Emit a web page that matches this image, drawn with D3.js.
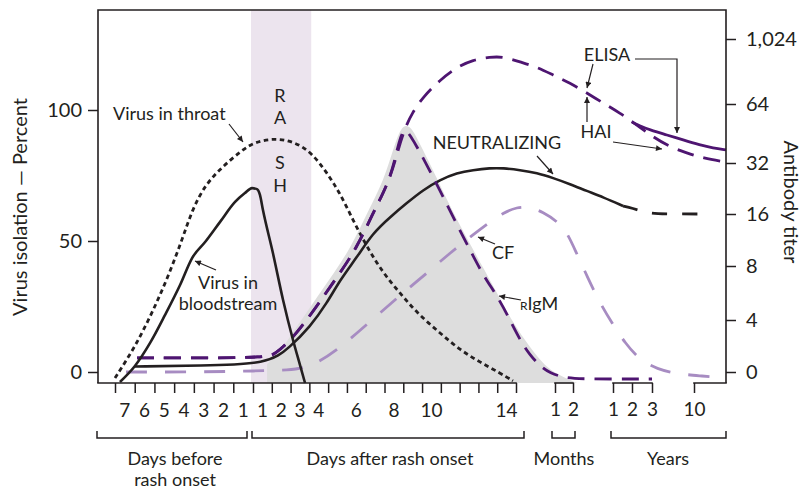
<!DOCTYPE html>
<html><head><meta charset="utf-8">
<script src="https://cdn.jsdelivr.net/npm/d3@7"></script>
<style>
html,body{margin:0;padding:0;background:#fff;}
svg{display:block;font-family:Lato,"Open Sans",sans-serif;}
</style></head><body>
<svg id="chart" width="807" height="492"></svg>
<script>
// Time runs in day units relative to rash onset (-7..14); months and years continue on the same units.
const daysBefore = [7, 6, 5, 4, 3, 2, 1];
const daysAfter = [1, 2, 3, 4, 6, 8, 10, 14];
const months = [1, 2];
const years = [1, 2, 3, 10];
const percentTicks = [0, 50, 100];
const titerTicks = [0, 4, 8, 16, 32, 64, 1024];
const rashSpan = [-0.1, 3.1];

// Virus isolation, percent (left axis)
const throat = [[-7.0,-2.3],[-5.99,9.5],[-5.12,22.5],[-4.31,36.3],[-3.6,50.4],[-3.09,61.8],[-2.43,71.4],[-1.57,78.2],[-0.56,84.7],[0.11,87.8],[1.17,89.3],[2.24,87.8],[3.14,83.6],[3.94,76.0],[4.63,68.3],[5.32,58.0],[6.07,47.7],[6.92,37.8],[7.82,30.2],[8.73,22.5],[9.95,14.9],[11.02,8.4],[12.08,3.8],[13.15,-0.4],[13.84,-3.4]];
const bloodstream = [[-6.75,-3.8],[-5.99,2.3],[-5.22,11.1],[-4.46,21.8],[-3.7,33.2],[-3.09,43.5],[-2.43,49.6],[-1.67,57.3],[-0.91,64.9],[-0.41,68.3],[-0.05,70.2],[0.21,69.8],[0.37,67.6],[0.53,61.8],[1.06,45.4],[1.6,27.5],[2.13,12.2],[2.5,2.7],[2.77,-4.2]];

// Antibody titers (right axis)
const neutralizing = [[-5.99,0.42],[-2.69,0.5],[0.8,0.58],[1.97,1.92],[3.03,3.46],[3.94,5.26],[4.63,6.96],[5.54,9.38],[6.39,13.1],[7.29,15.5],[8.2,19.5],[9.05,23.5],[9.95,26.7],[10.86,28.9],[11.71,29.8],[12.62,30.4],[13.31,30.4],[14.21,29.8],[15.12,28.9],[15.97,27.3],[16.87,25.4],[17.78,23.2],[18.63,21.3],[19.7,18.5]];
const neutralizingLate = [[19.7,18.5],[20.17,17.9],[20.97,16.3],[21.82,16],[24.33,16]];
const earlyRise = [[-5.88,1.08],[-2.69,1.08],[0.75,1.12],[1.17,1.38],[1.97,2.38],[2.87,4.0],[3.73,5.7],[4.63,7.48],[5.54,10.9],[6.39,16.3],[7.29,26.7]];
const haiTail = [[7.72,39.1],[8.09,51.0],[8.47,59.1],[9.05,167],[9.95,418],[10.86,610],[11.71,714],[12.62,758],[13.31,765],[14.21,684],[15.12,610],[15.97,492],[16.87,374],[17.78,226],[18.63,79],[19.54,59.1],[20.44,52.6],[21.29,46.1],[22.2,40.7],[23.1,37.4],[23.95,34.7],[25.18,32.5]];
const rigmTail = [[7.67,39.1],[7.88,47.2],[8.09,50.5],[8.36,47.2],[8.89,38.0],[9.95,23.5],[10.86,14.3],[11.55,10.5],[12.24,7.33],[13.04,5.7],[13.68,4.0],[14.21,2.46],[14.74,1.31],[15.28,0.46],[15.81,-0.08],[16.61,-0.46],[17.57,-0.54],[21.24,-0.54]];
const elisa = [[20.17,54.2],[20.6,52.1],[21.13,49.9],[22.04,47.2],[22.89,44.5],[23.79,41.8],[24.49,40.1],[25.18,39.1]];
const cf = [[-6.44,0],[-2.69,0],[0.21,0.08],[1.97,0.15],[2.66,0.31],[3.41,0.69],[4.47,1.69],[5.54,3.0],[6.76,4.52],[7.98,6.0],[9.26,7.48],[10.49,10.0],[11.71,12.8],[12.62,14.8],[13.31,16.3],[14.05,18.2],[14.74,18.2],[15.44,16.6],[16.18,14.9],[16.71,13.2],[17.14,10.5],[17.83,7.1],[18.47,5.26],[19.11,3.77],[19.8,2.23],[20.6,0.92],[21.51,0.23],[22.57,-0.15],[23.95,-0.31],[25.02,-0.46]];
const igmShade = [[0.75,0.62],[1.44,1.54],[2.5,3.85],[3.41,5.7],[4.31,7.48],[5.22,10.9],[6.07,16.3],[6.97,26.7],[7.45,39.1],[7.82,49.9],[8.09,52.6],[8.41,51.5],[8.78,44.5],[9.32,33.6],[9.95,25.1],[10.75,15.7],[11.44,12.0],[12.08,8.6],[12.99,6.0],[13.84,3.77],[14.74,1.92],[15.28,0.92],[15.81,0.15],[16.61,-0.46],[17.25,-0.85]];

const L = 98, R = 726, T = 10, B = 383;
const ink = "#231f20", dark = "#4e1571", light = "#a78cc2";
const font = "Lato, 'Open Sans', sans-serif";

const x = d3.scaleLinear().domain([-7, 0, 14]).range([115, 253, 516]);
const xMonth = d3.scaleLinear().domain([1, 2]).range([555, 573]);
const xYear = d3.scaleLinear().domain([1, 2, 3, 10]).range([613, 632, 652, 694]);
const yPct = d3.scaleLinear().domain([0, 100]).range([372, 110]);
const yTiter = d3.scaleLinear().domain(titerTicks).range([372, 320, 266, 214, 163, 104, 39]);

const svg = d3.select("#chart");

const defs = svg.append("defs");
defs.append("marker").attr("id", "arrow").attr("viewBox", "0 0 10 10")
  .attr("refX", 10).attr("refY", 5).attr("markerWidth", 8).attr("markerHeight", 6)
  .attr("markerUnits", "userSpaceOnUse").attr("orient", "auto")
  .append("path").attr("d", "M0,0 L10,5 L0,10 Z").attr("fill", ink);

// rash period band
svg.append("rect").attr("x", x(rashSpan[0])).attr("y", T)
  .attr("width", x(rashSpan[1]) - x(rashSpan[0])).attr("height", B - T)
  .attr("fill", "#ece4ee");

// shaded IgM region
svg.append("path").datum(igmShade)
  .attr("d", d3.area().x(d => x(d[0])).y0(B).y1(d => yTiter(d[1])).curve(d3.curveBasis))
  .attr("fill", "#dddddd");

const smoothPct = d3.line().x(d => x(d[0])).y(d => yPct(d[1])).curve(d3.curveBasis);
const sharpPct = d3.line().x(d => x(d[0])).y(d => yPct(d[1])).curve(d3.curveMonotoneX);
const lineTiter = d3.line().x(d => x(d[0])).y(d => yTiter(d[1])).curve(d3.curveBasis);

function draw(data, gen, color, width, dash) {
  svg.append("path").datum(data).attr("d", gen).attr("fill", "none")
    .attr("stroke", color).attr("stroke-width", width)
    .attr("stroke-dasharray", dash || null);
}

draw(cf, lineTiter, light, 2.8, "21,18");
draw(throat, smoothPct, ink, 2.8, "4.5,3.5");
draw(neutralizing, lineTiter, ink, 2.6);
draw(neutralizingLate, lineTiter, ink, 2.8, "15,15");
draw(earlyRise.concat(rigmTail), lineTiter, dark, 2.8, "17,10");
draw(earlyRise.concat(haiTail), lineTiter, dark, 2.8, "17,10");
draw(elisa, lineTiter, dark, 2.8);
draw(bloodstream, sharpPct, ink, 2.6);

// frame
svg.append("path").attr("d", `M${L},${B}V${T}H${R}V${B}`).attr("fill", "none")
  .attr("stroke", ink).attr("stroke-width", 1.6);
const baseSegs = [[L, x(14)], [xMonth(1), xMonth(2)], [xYear(1), xYear(3)], [xYear(10), R]];
svg.selectAll("line.base").data(baseSegs).join("line").attr("class", "base")
  .attr("x1", d => d[0]).attr("x2", d => d[1]).attr("y1", B).attr("y2", B)
  .attr("stroke", ink).attr("stroke-width", 1.6).attr("stroke-linecap", "square");

function styleAxis(g, size) {
  g.select(".domain").remove();
  g.selectAll(".tick line").attr("stroke", ink).attr("stroke-width", 1.5);
  g.selectAll(".tick text").attr("fill", ink).attr("font-size", size).attr("font-family", font);
}

// left axis
svg.append("g").attr("transform", `translate(${L},0)`)
  .call(d3.axisLeft(yPct).tickValues(percentTicks).tickSize(10).tickPadding(6))
  .call(g => styleAxis(g, 20));

// right axis
svg.append("g").attr("transform", `translate(${R},0)`)
  .call(d3.axisRight(yTiter).tickValues(titerTicks).tickSize(10).tickPadding(10).tickFormat(d3.format(",")))
  .call(g => styleAxis(g, 20));

// day ticks
svg.append("g").attr("transform", `translate(0,${B})`)
  .call(d3.axisBottom(x).tickValues(d3.range(-7, 15)).tickSize(10).tickFormat(""))
  .call(g => styleAxis(g, 19));
svg.append("g").attr("transform", `translate(0,${B})`)
  .call(d3.axisBottom(xMonth).tickValues(months).tickSize(10).tickPadding(10).tickFormat(d3.format("d")))
  .call(g => styleAxis(g, 19));
svg.append("g").attr("transform", `translate(0,${B})`)
  .call(d3.axisBottom(xYear).tickValues(years).tickSize(10).tickPadding(10).tickFormat(d3.format("d")))
  .call(g => styleAxis(g, 19));

// day labels sit between ticks
const dayLabels = daysBefore.map(d => ({t: -d + 0.5, s: d})).concat(daysAfter.map(d => ({t: d - 0.5, s: d})));
svg.selectAll("text.day").data(dayLabels).join("text").attr("class", "day")
  .attr("x", d => x(d.t)).attr("y", 417).attr("text-anchor", "middle")
  .attr("font-size", 19).attr("fill", ink).text(d => d.s);

// period brackets
const brackets = [
  {a: 97, b: 247, lines: ["Days before", "rash onset"], cx: 175},
  {a: 252, b: 524, lines: ["Days after rash onset"], cx: 390},
  {a: 552, b: 575, lines: ["Months"], cx: 564},
  {a: 611, b: 726, lines: ["Years"], cx: 668}
];
brackets.forEach(br => {
  svg.append("path").attr("d", `M${br.a},431V438H${br.b}V431`).attr("fill", "none")
    .attr("stroke", ink).attr("stroke-width", 1.5);
  br.lines.forEach((s, i) => svg.append("text").attr("x", br.cx).attr("y", 465 + i * 21)
    .attr("text-anchor", "middle").attr("font-size", 18).attr("fill", ink).text(s));
});

// axis titles
svg.append("text").attr("transform", "translate(27,207) rotate(-90)").attr("text-anchor", "middle")
  .attr("font-size", 20).attr("fill", ink).text("Virus isolation — Percent");
svg.append("text").attr("transform", "translate(784,202) rotate(90)").attr("text-anchor", "middle")
  .attr("font-size", 20).attr("fill", ink).text("Antibody titer");

// RASH
[["R", 96], ["A", 118], ["S", 163], ["H", 186]].forEach(([c, y]) =>
  svg.append("text").attr("x", 280).attr("y", y).attr("dy", "0.35em").attr("text-anchor", "middle")
    .attr("font-size", 18).attr("fill", ink).text(c));

// annotations
const notes = [
  {x: 113, y: 114, a: "start", s: "Virus in throat"},
  {x: 228, y: 283, a: "middle", s: "Virus in"},
  {x: 228, y: 304, a: "middle", s: "bloodstream"},
  {x: 497, y: 143, a: "middle", s: "NEUTRALIZING"},
  {x: 503, y: 253, a: "middle", s: "CF"},
  {x: 607, y: 55, a: "middle", s: "ELISA"},
  {x: 596, y: 132, a: "middle", s: "HAI"}
];
svg.selectAll("text.note").data(notes).join("text").attr("class", "note")
  .attr("x", d => d.x).attr("y", d => d.y).attr("dy", "0.35em").attr("text-anchor", d => d.a)
  .attr("font-size", 18).attr("fill", ink).text(d => d.s);
const igm = svg.append("text").attr("x", 520).attr("y", 304).attr("dy", "0.35em")
  .attr("font-size", 18).attr("fill", ink);
igm.append("tspan").attr("font-size", 12).text("R");
igm.append("tspan").text("IgM");

const arrows = [
  [[229,124],[243,142]],
  [[216,270],[195,261]],
  [[537,156],[553,174]],
  [[495,244],[478,237]],
  [[521,300],[499,296]],
  [[593,64],[587,88]],
  [[635,59],[677,59],[677,133]],
  [[587,122],[587,97]],
  [[613,142],[662,149]]
];
svg.selectAll("path.arrow").data(arrows).join("path").attr("class", "arrow")
  .attr("d", d => "M" + d.map(p => p.join(",")).join("L"))
  .attr("fill", "none").attr("stroke", ink).attr("stroke-width", 1.2)
  .attr("marker-end", "url(#arrow)");
</script>
</body></html>
